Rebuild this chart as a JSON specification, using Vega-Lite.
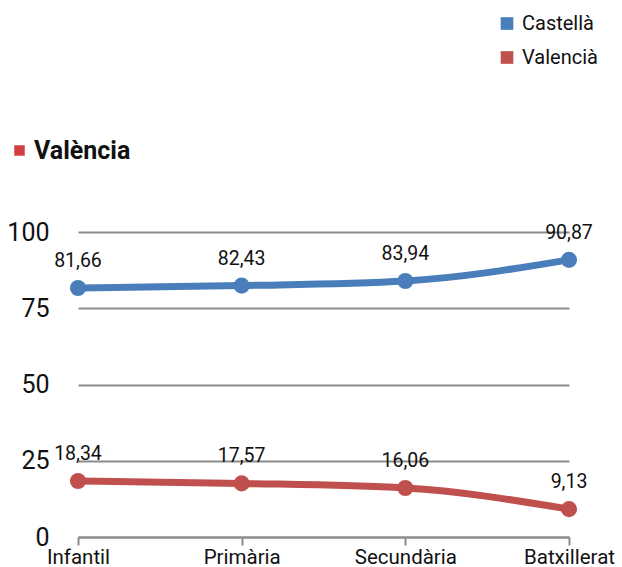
{
  "$schema": "https://vega.github.io/schema/vega-lite/v6.json",
  "width": 491,
  "height": 305,
  "autosize": "none",
  "padding": {"left": 78, "top": 232, "right": 53, "bottom": 30},
  "background": "white",
  "config": {
    "view": {"stroke": null},
    "font": "Roboto",
    "locale": {"number": {"decimal": ",", "thousands": ".", "grouping": [3], "currency": ["", " €"]}}
  },
  "data": {
    "values": [
      {"nivell": "Infantil", "llengua": "Castellà", "valor": 81.66},
      {"nivell": "Primària", "llengua": "Castellà", "valor": 82.43},
      {"nivell": "Secundària", "llengua": "Castellà", "valor": 83.94},
      {"nivell": "Batxillerat", "llengua": "Castellà", "valor": 90.87},
      {"nivell": "Infantil", "llengua": "Valencià", "valor": 18.34},
      {"nivell": "Primària", "llengua": "Valencià", "valor": 17.57},
      {"nivell": "Secundària", "llengua": "Valencià", "valor": 16.06},
      {"nivell": "Batxillerat", "llengua": "Valencià", "valor": 9.13}
    ]
  },
  "encoding": {
    "x": {
      "field": "nivell", "type": "ordinal",
      "sort": ["Infantil", "Primària", "Secundària", "Batxillerat"],
      "scale": {"type": "point", "padding": 0},
      "axis": {
        "title": null, "labelAngle": 0, "grid": false,
        "domainColor": "#8c8c8c", "domainWidth": 2,
        "tickColor": "#8c8c8c", "tickWidth": 2, "tickSize": 8,
        "labelFontSize": 20.5, "labelColor": "#111", "labelPadding": 2, "labelFont": "Roboto"
      }
    },
    "y": {
      "field": "valor", "type": "quantitative",
      "scale": {"domain": [0, 100], "nice": false},
      "axis": {
        "title": null, "values": [0, 25, 50, 75, 100],
        "domain": false, "ticks": false,
        "gridColor": "#8c8c8c", "gridWidth": 2,
        "labelFontSize": 25, "labelColor": "#111", "labelPadding": 29
      }
    },
    "color": {
      "field": "llengua", "type": "nominal",
      "scale": {"domain": ["Castellà", "Valencià"], "range": ["#4a7ebb", "#c0504d"]},
      "legend": {
        "title": null, "orient": "none", "legendX": 419, "legendY": -218.5,
        "symbolType": "square", "symbolSize": 160, "symbolStrokeWidth": 0,
        "labelFontSize": 20, "labelColor": "#111", "rowPadding": 14, "labelOffset": 5
      }
    }
  },
  "layer": [
    {"mark": {"type": "line", "strokeWidth": 7, "interpolate": "monotone"}},
    {"mark": {"type": "point", "filled": true, "size": 260, "opacity": 1}},
    {
      "mark": {"type": "text", "dy": -27, "fontSize": 19.5, "color": "#111"},
      "encoding": {
        "text": {"field": "valor", "type": "quantitative", "format": ".2f"},
        "color": {"value": "#111"}
      }
    },
    {
      "transform": [{"filter": "false"}],
      "mark": {"type": "square", "filled": true, "color": "#d04040"},
      "encoding": {
        "color": {"value": "#d04040"},
        "opacity": {
          "datum": "València", "type": "ordinal",
          "scale": {"range": [1]},
          "legend": {
            "title": null, "orient": "none", "legendX": -71, "legendY": -94,
            "symbolType": "square", "symbolSize": 110,
            "symbolStrokeWidth": 0, "symbolOpacity": 1, "symbolFillColor": "#d04040",
            "labelFontSize": 25, "labelFontWeight": "bold", "labelColor": "#111", "labelOffset": 2
          }
        }
      }
    }
  ]
}
